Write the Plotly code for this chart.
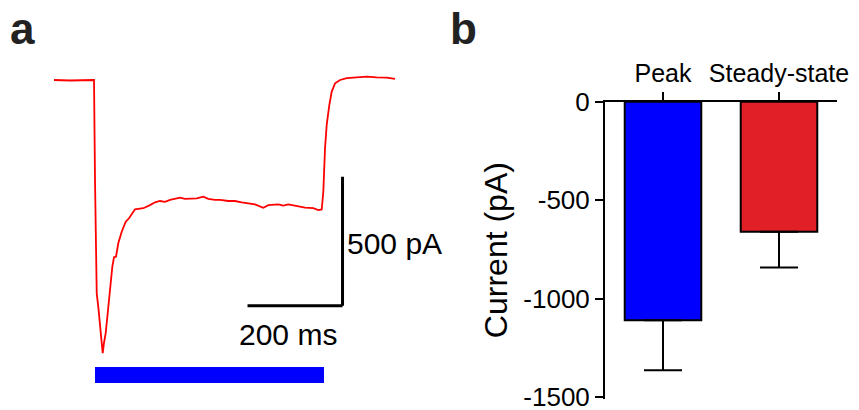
import plotly.graph_objects as go

# ---- Panel a: current trace (time in ms relative to light onset, current in pA)
trace_t = [-86.3, -52.6, -3.6, -2.1, 0.0, 3.6, 6.9, 12.0, 16.2, 18.9, 22.5, 26.7, 31.6, 36.4,
           40.0, 44.2, 49.0, 56.2, 64.6, 71.6, 84.2, 94.7, 101.7, 115.8, 126.3, 136.8, 147.4,
           157.9, 168.4, 178.9, 189.5, 200.0, 214.1, 228.0, 238.5, 252.6, 263.1, 280.6, 294.7,
           308.8, 322.7, 336.8, 354.3, 364.8, 385.8, 396.4, 406.9, 427.9, 442.1, 459.5, 470.0,
           477.2, 480.6, 484.2, 487.7, 493.2, 498.3, 505.3, 515.8, 529.8, 550.9, 572.0, 593.0,
           614.0, 631.5]
trace_i = [0, -2, 0, 0, -388, -827, -879, -976, -1059, -1019, -981, -904, -801, -724,
           -687, -685, -633, -588, -549, -536, -501, -500, -497, -485, -474, -469, -472,
           -465, -461, -456, -461, -461, -459, -452, -461, -465, -465, -469, -469,
           -474, -478, -482, -495, -485, -482, -487, -482, -491, -495, -497, -504,
           -502, -433, -265, -174, -97, -45, -13, 0, 7, 9, 13, 10,
           9, 4]
stim_on, stim_off = 0, 482          # ms, blue light bar
scale_t, scale_i = 200, 500         # scale bar sizes (ms, pA)
scale_labels = ["500 pA", "200 ms"]

# ---- Panel b: bar chart
categories = ["Peak", "Steady-state"]
means = [-1110, -661]
sem = [255, 181]
bar_colors = ["#0000FF", "#E01F26"]
yticks = [0, -500, -1000, -1500]

FONT = "Liberation Sans, Arial, sans-serif"

fig = go.Figure()
fig.add_trace(go.Scatter(x=trace_t, y=trace_i, mode="lines",
                         line=dict(color="#FF0000", width=1.8),
                         xaxis="x", yaxis="y", showlegend=False, hoverinfo="skip"))

fig.add_trace(go.Bar(x=categories, y=means, marker=dict(color=bar_colors,
                     line=dict(color="black", width=2)), width=0.66,
                     error_y=dict(type="data", symmetric=False, array=[0, 0],
                                  arrayminus=sem, color="black", thickness=2, width=19),
                     xaxis="x2", yaxis="y2", showlegend=False))

# scale bar geometry (data units)
sb_x1 = 521
sb_y0 = -875
shapes = [
    dict(type="line", xref="x", yref="y", x0=sb_x1, x1=sb_x1, y0=sb_y0, y1=sb_y0 + scale_i,
         line=dict(color="black", width=3)),
    dict(type="line", xref="x", yref="y", x0=sb_x1 - scale_t, x1=sb_x1, y0=sb_y0, y1=sb_y0,
         line=dict(color="black", width=3)),
    dict(type="rect", xref="x", yref="y", x0=stim_on, x1=stim_off, y0=-1174, y1=-1112,
         fillcolor="#0000FF", line=dict(width=0)),
]

annotations = [
    dict(text=scale_labels[0], xref="x", yref="y", x=sb_x1 + 5, y=sb_y0 + scale_i / 2 - 10,
         xanchor="left", yanchor="middle", showarrow=False,
         font=dict(family=FONT, size=30, color="black")),
    dict(text=scale_labels[1], xref="x", yref="y", x=sb_x1 - scale_t / 2 - 14, y=-985,
         xanchor="center", yanchor="middle", showarrow=False,
         font=dict(family=FONT, size=30, color="black")),
    dict(text="<b>a</b>", xref="paper", yref="paper", x=22 / 859, y=1 - 28 / 410,
         xanchor="center", yanchor="middle", showarrow=False,
         font=dict(family=FONT, size=44, color="#222222")),
    dict(text="<b>b</b>", xref="paper", yref="paper", x=463 / 859, y=1 - 28 / 410,
         xanchor="center", yanchor="middle", showarrow=False,
         font=dict(family=FONT, size=44, color="#222222")),
]

fig.update_layout(
    width=859, height=410,
    margin=dict(l=0, r=0, t=0, b=0, pad=0, autoexpand=False),
    paper_bgcolor="white", plot_bgcolor="white",
    font=dict(family=FONT, color="black"),
    shapes=shapes, annotations=annotations,
    xaxis=dict(domain=[0, 0.5], range=[-200, 704.1], visible=False, automargin=False),
    yaxis=dict(domain=[0, 1], range=[-1279.1, 310.1], visible=False, automargin=False),
    xaxis2=dict(domain=[605 / 859, 837 / 859], anchor="y2", side="top", type="category",
                range=[-0.5, 1.5], showline=True, linecolor="black", linewidth=2,
                ticks="outside", ticklen=8, tickwidth=2, tickcolor="black", automargin=False,
                tickfont=dict(size=25, family=FONT), showgrid=False, zeroline=False),
    yaxis2=dict(domain=[1 - 398.5 / 410, 1 - 101.7 / 410], anchor="x2", range=[-1508, 0],
                tickmode="array", tickvals=yticks, ticktext=[str(v) for v in yticks],
                automargin=False, ticklabeloverflow="allow",
                showline=True, linecolor="black", linewidth=2,
                ticks="outside", ticklen=8, tickwidth=2, tickcolor="black",
                tickfont=dict(size=26, family=FONT), showgrid=False, zeroline=False,
                title=dict(text="Current (pA)", font=dict(size=32, family=FONT), standoff=6)),
)

fig.write_html("out.html", config={"displayModeBar": False},
               post_script="document.body.style.margin='0';")
